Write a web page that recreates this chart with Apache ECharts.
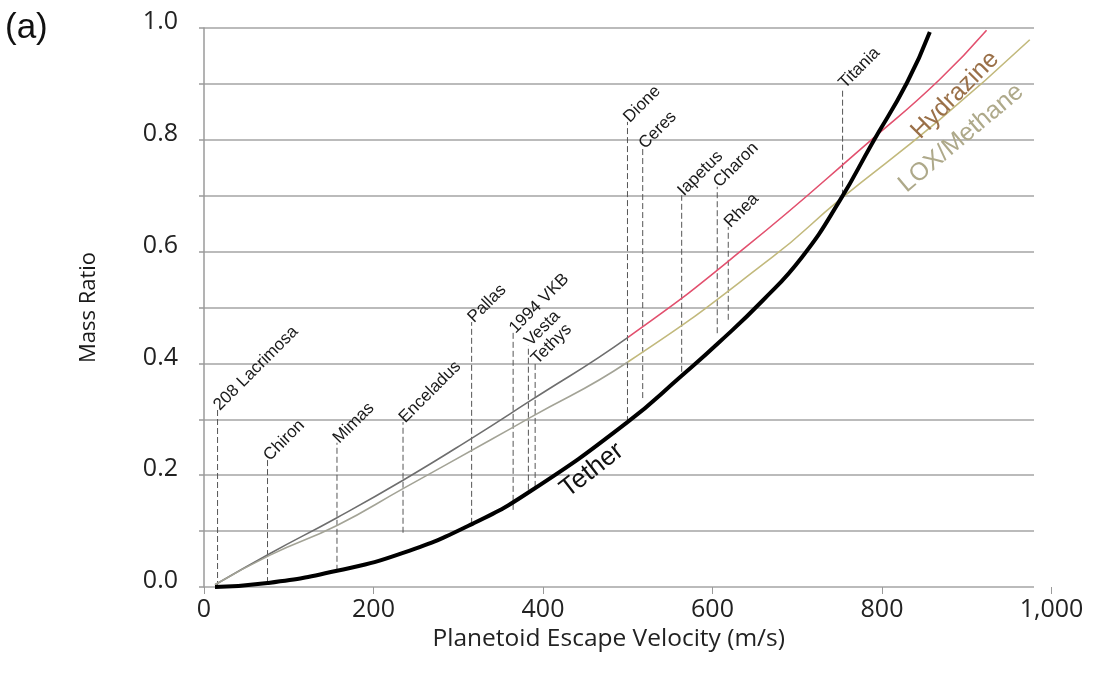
<!DOCTYPE html>
<html>
<head>
<meta charset="utf-8">
<script src="https://cdn.jsdelivr.net/npm/echarts@6/dist/echarts.min.js"></script>
<style>
  html, body { margin: 0; padding: 0; background: #ffffff; }
  #main { width: 1097px; height: 692px; }
</style>
</head>
<body>
<div id="main"></div>
<script>
// Escape velocity (m/s) vs. mass ratio for three propulsion options
const tetherV = [13, 75, 157, 235, 317, 388, 500, 564, 607, 660, 706, 751, 789, 830, 857];
const tetherM = [0, 0.007, 0.029, 0.061, 0.113, 0.174, 0.295, 0.378, 0.436, 0.513, 0.590, 0.692, 0.794, 0.902, 0.993];

const hydrazineV = [13, 78, 157, 235, 316, 384, 501, 638, 788, 868, 924];
const hydrazineM = [0.004, 0.060, 0.124, 0.191, 0.266, 0.332, 0.447, 0.606, 0.800, 0.907, 0.996];

const loxV = [13, 78, 157, 235, 337, 385, 500, 671, 750, 868, 975];
const loxM = [0.004, 0.057, 0.110, 0.176, 0.262, 0.303, 0.402, 0.590, 0.692, 0.835, 0.979];

// Velocity above which the chemical curves change colour
const colourSplitV = 500;

// Bodies: escape velocity, top and bottom of the marker line
const bodyNames = ['208 Lacrimosa', 'Chiron', 'Mimas', 'Enceladus', 'Pallas', '1994 VKB', 'Vesta', 'Tethys',
                   'Dione', 'Ceres', 'Iapetus', 'Charon', 'Rhea', 'Titania'];
const bodyV = [16, 75, 157, 235, 316, 365, 383, 391, 500, 518, 564, 606, 619, 754];
const bodyTop = [0.317, 0.227, 0.258, 0.295, 0.474, 0.455, 0.432, 0.400, 0.832, 0.785, 0.701, 0.716, 0.644, 0.893];
const bodyBottom = [0, 0.007, 0.029, 0.097, 0.113, 0.138, 0.174, 0.179, 0.295, 0.338, 0.385, 0.454, 0.478, 0.700];

// Curve captions: text, velocity, mass ratio, angle (deg)
const captionText = ['Tether', 'Hydrazine', 'LOX/Methane'];
const captionV = [458, 887, 894];
const captionM = [0.209, 0.880, 0.803];
const captionAngle = [38, 45, 40];

const xTickInterval = 200;
const yTickInterval = 0.1;

const zip = (a, b) => a.map((v, i) => [v, b[i]]);

// Horizontal gradient with a hard colour change at colourSplitV
function splitGradient(vs, left, right) {
  const f = (colourSplitV - vs[0]) / (vs[vs.length - 1] - vs[0]);
  return new echarts.graphic.LinearGradient(0, 0, 1, 0, [
    { offset: 0, color: left }, { offset: f, color: left },
    { offset: f, color: right }, { offset: 1, color: right }
  ]);
}

const tickFont = 'Open Sans';
const chart = echarts.init(document.getElementById('main'), null, { renderer: 'canvas' });

chart.setOption({
  animation: false,
  backgroundColor: '#ffffff',
  title: {
    text: '(a)', left: 0, top: 6,
    textStyle: { fontSize: 35, fontWeight: 'normal', fontFamily: 'Liberation Sans', color: '#111' }
  },
  grid: [
    { left: 204, top: 28, width: 830, height: 559 },
    { left: 204, top: 28, width: 847.5, height: 559 }
  ],
  xAxis: [
    { gridIndex: 0, type: 'value', min: 0, max: 980, show: false },
    {
      gridIndex: 1, type: 'value', min: 0, max: 1000, interval: xTickInterval,
      axisLine: { show: false },
      axisTick: { show: true, length: 7, lineStyle: { color: '#9a9a9a', width: 1 } },
      splitLine: { show: false },
      axisLabel: {
        margin: 10, fontSize: 25, fontFamily: tickFont, color: '#222',
        formatter: v => v.toLocaleString('en-US')
      },
      name: 'Planetoid Escape Velocity (m/s)', nameLocation: 'middle', nameGap: 40,
      nameTextStyle: { fontSize: 24.5, fontFamily: tickFont, color: '#222', padding: [0, 38, 0, 0] }
    }
  ],
  yAxis: [
    {
      gridIndex: 0, type: 'value', min: 0, max: 1, interval: yTickInterval,
      axisLine: { show: true, lineStyle: { color: '#9a9a9a', width: 1.5 } },
      axisTick: { show: true, length: 5, lineStyle: { color: '#9a9a9a', width: 1.5 } },
      splitLine: { show: true, lineStyle: { color: '#a4a4a4', width: 1.5 } },
      axisLabel: {
        margin: 26, color: '#222',
        formatter: v => (Math.round(v * 10) % 2 === 0 ? '{t|' + v.toFixed(1) + '}' : ''),
        rich: {
          t: { fontSize: 25, fontFamily: tickFont, color: '#222', padding: [0, 0, 12, 0] }
        }
      },
      name: 'Mass Ratio', nameLocation: 'middle', nameGap: 104, nameRotate: 90,
      nameTextStyle: { fontSize: 22, fontFamily: tickFont, color: '#1a1a1a' }
    },
    { gridIndex: 1, type: 'value', min: 0, max: 1, show: false }
  ],
  series: [
    {
      name: 'Tether', type: 'line', xAxisIndex: 0, yAxisIndex: 0,
      data: zip(tetherV, tetherM), smooth: 0.5, showSymbol: false,
      lineStyle: { color: '#000', width: 4 }, z: 5
    },
    {
      name: 'Hydrazine', type: 'line', xAxisIndex: 0, yAxisIndex: 0,
      data: zip(hydrazineV, hydrazineM), smooth: 0.5, showSymbol: false,
      lineStyle: { width: 1.6, color: splitGradient(hydrazineV, '#6e6e6e', '#e2506e') }, z: 4
    },
    {
      name: 'LOX/Methane', type: 'line', xAxisIndex: 0, yAxisIndex: 0,
      data: zip(loxV, loxM), smooth: 0.5, showSymbol: false,
      lineStyle: { width: 1.6, color: splitGradient(loxV, '#a3a396', '#c2b97c') }, z: 4
    },
    {
      name: 'Bodies', type: 'custom', xAxisIndex: 0, yAxisIndex: 0, clip: false, z: 3,
      data: bodyV.map((v, i) => [v, bodyTop[i], bodyBottom[i]]),
      encode: { x: 0, y: [1, 2] },
      renderItem: function (params, api) {
        const v = api.value(0);
        const pTop = api.coord([v, api.value(1)]);
        const pBot = api.coord([v, api.value(2)]);
        return {
          type: 'group',
          children: [
            {
              type: 'line',
              shape: { x1: pBot[0], y1: pBot[1], x2: pTop[0], y2: pTop[1] },
              style: { stroke: '#555', lineWidth: 1, lineDash: [6, 3] }
            },
            {
              type: 'text', x: pTop[0] + 5, y: pTop[1] + 4, rotation: Math.PI / 4,
              style: {
                text: bodyNames[params.dataIndex], font: '17px "Liberation Sans"',
                fill: '#1a1a1a', align: 'left', verticalAlign: 'bottom'
              }
            }
          ]
        };
      }
    },
    {
      name: 'Captions', type: 'custom', xAxisIndex: 0, yAxisIndex: 0, clip: false, z: 6,
      data: captionV.map((v, i) => [v, captionM[i]]),
      encode: { x: 0, y: 1 },
      renderItem: function (params, api) {
        const i = params.dataIndex;
        const p = api.coord([api.value(0), api.value(1)]);
        const colors = ['#111111', '#9a7048', '#aea98a'];
        const sizes = [26, 25, 25];
        return {
          type: 'text', x: p[0], y: p[1], rotation: captionAngle[i] * Math.PI / 180,
          style: {
            text: captionText[i], font: sizes[i] + 'px "Liberation Sans"',
            fill: colors[i], align: 'center', verticalAlign: 'middle'
          }
        };
      }
    }
  ]
});
</script>
</body>
</html>
